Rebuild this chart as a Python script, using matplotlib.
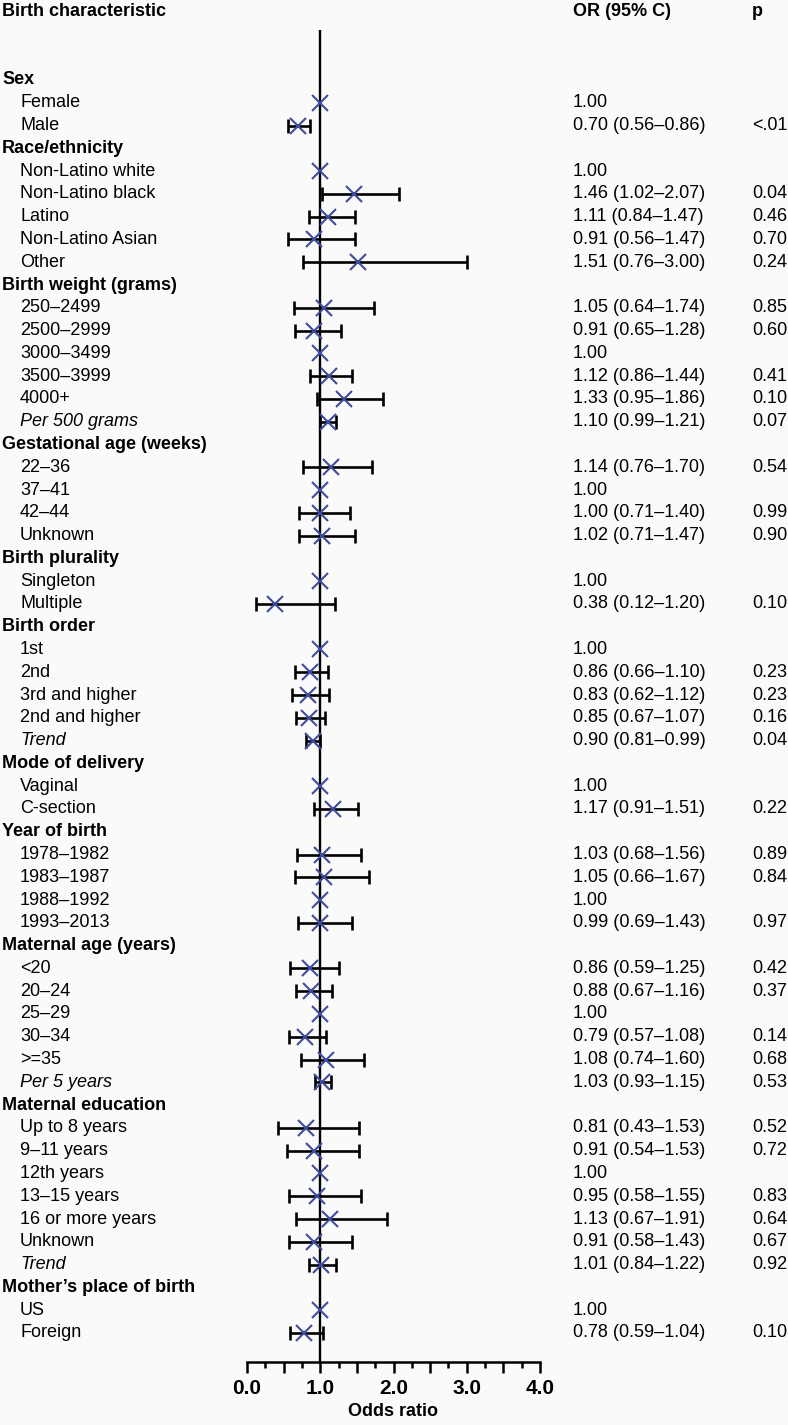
import matplotlib
matplotlib.use("Agg")
import matplotlib.pyplot as plt
from matplotlib.transforms import blended_transform_factory
from matplotlib.ticker import MultipleLocator

plt.rcParams['font.family'] = ['Liberation Sans', 'DejaVu Sans']

# rows of the table, top to bottom
row_labels = [
    "Sex", "Female", "Male",
    "Race/ethnicity", "Non-Latino white", "Non-Latino black", "Latino", "Non-Latino Asian", "Other",
    "Birth weight (grams)", "250–2499", "2500–2999", "3000–3499", "3500–3999", "4000+", "Per 500 grams",
    "Gestational age (weeks)", "22–36", "37–41", "42–44", "Unknown",
    "Birth plurality", "Singleton", "Multiple",
    "Birth order", "1st", "2nd", "3rd and higher", "2nd and higher", "Trend",
    "Mode of delivery", "Vaginal", "C-section",
    "Year of birth", "1978–1982", "1983–1987", "1988–1992", "1993–2013",
    "Maternal age (years)", "<20", "20–24", "25–29", "30–34", ">=35", "Per 5 years",
    "Maternal education", "Up to 8 years", "9–11 years", "12th years", "13–15 years",
    "16 or more years", "Unknown", "Trend",
    "Mother’s place of birth", "US", "Foreign",
]
headers = {"Sex", "Race/ethnicity", "Birth weight (grams)", "Gestational age (weeks)",
           "Birth plurality", "Birth order", "Mode of delivery", "Year of birth",
           "Maternal age (years)", "Maternal education", "Mother’s place of birth"}
italic_rows = {"Per 500 grams", "Trend", "Per 5 years"}

N = None
odds = [N, 1.00, 0.70,
        N, 1.00, 1.46, 1.11, 0.91, 1.51,
        N, 1.05, 0.91, 1.00, 1.12, 1.33, 1.10,
        N, 1.14, 1.00, 1.00, 1.02,
        N, 1.00, 0.38,
        N, 1.00, 0.86, 0.83, 0.85, 0.90,
        N, 1.00, 1.17,
        N, 1.03, 1.05, 1.00, 0.99,
        N, 0.86, 0.88, 1.00, 0.79, 1.08, 1.03,
        N, 0.81, 0.91, 1.00, 0.95, 1.13, 0.91, 1.01,
        N, 1.00, 0.78]
ci_low = [N, N, 0.56,
          N, N, 1.02, 0.84, 0.56, 0.76,
          N, 0.64, 0.65, N, 0.86, 0.95, 0.99,
          N, 0.76, N, 0.71, 0.71,
          N, N, 0.12,
          N, N, 0.66, 0.62, 0.67, 0.81,
          N, N, 0.91,
          N, 0.68, 0.66, N, 0.69,
          N, 0.59, 0.67, N, 0.57, 0.74, 0.93,
          N, 0.43, 0.54, N, 0.58, 0.67, 0.58, 0.84,
          N, N, 0.59]
ci_high = [N, N, 0.86,
           N, N, 2.07, 1.47, 1.47, 3.00,
           N, 1.74, 1.28, N, 1.44, 1.86, 1.21,
           N, 1.70, N, 1.40, 1.47,
           N, N, 1.20,
           N, N, 1.10, 1.12, 1.07, 0.99,
           N, N, 1.51,
           N, 1.56, 1.67, N, 1.43,
           N, 1.25, 1.16, N, 1.08, 1.60, 1.15,
           N, 1.53, 1.53, N, 1.55, 1.91, 1.43, 1.22,
           N, N, 1.04]
p_text = ["", "", "<.01",
          "", "", "0.04", "0.46", "0.70", "0.24",
          "", "0.85", "0.60", "", "0.41", "0.10", "0.07",
          "", "0.54", "", "0.99", "0.90",
          "", "", "0.10",
          "", "", "0.23", "0.23", "0.16", "0.04",
          "", "", "0.22",
          "", "0.89", "0.84", "", "0.97",
          "", "0.42", "0.37", "", "0.14", "0.68", "0.53",
          "", "0.52", "0.72", "", "0.83", "0.64", "0.67", "0.92",
          "", "", "0.10"]
tick_vals = [0, 0.5, 1, 1.5, 2, 2.5, 3, 3.5, 4]
tick_labels = ["0.0", "", "1.0", "", "2.0", "", "3.0", "", "4.0"]

W, H = 788, 1425
bg = "#fafafa"
marker_color = "#3f4c9e"
fs = 13

fig = plt.figure(figsize=(W / 100, H / 100), dpi=100, facecolor=bg)
# axes: x 0..4 spans px 247..540, y spans px 30..1362
ax = fig.add_axes([247 / W, (H - 1362) / H, 293 / W, 1332 / H], facecolor=bg)

row_gap = 22.78
top_row_px = 80
ax.set_xlim(0, 4)
ax.set_ylim((1362 - top_row_px) / row_gap, (30 - top_row_px) / row_gap)

ax.axvline(1.0, color="black", lw=1.7, zorder=1)

for i, (o, lo, hi) in enumerate(zip(odds, ci_low, ci_high)):
    if o is None:
        continue
    if lo is not None:
        ax.errorbar([o], [i], xerr=[[o - lo], [hi - o]], fmt="none", ecolor="black",
                    elinewidth=1.9, capsize=4.8, capthick=1.9, zorder=2)
    ax.plot([o], [i], marker="x", color=marker_color, markersize=11, mew=1.5,
            linestyle="none", zorder=3)

for s in ["top", "right", "left"]:
    ax.spines[s].set_visible(False)
ax.spines["bottom"].set_linewidth(1.8)
ax.set_yticks([])
ax.set_xticks(tick_vals)
ax.set_xticklabels(tick_labels, fontsize=15, fontweight="bold")
ax.xaxis.set_minor_locator(MultipleLocator(0.25))
ax.tick_params(axis="x", which="major", length=8, width=1.8, pad=4)
ax.tick_params(axis="x", which="minor", length=4.5, width=1.8)
ax.set_xlabel("Odds ratio", fontsize=fs, fontweight="bold", labelpad=4)

trans = blended_transform_factory(fig.transFigure, ax.transData)
x_head = 2 / W
x_item = 20 / W
x_or = 573 / W
x_p = 752 / W

for i, lab in enumerate(row_labels):
    if lab in headers:
        ax.text(x_head, i, lab, transform=trans, fontsize=fs, fontweight="bold",
                va="center", ha="left")
    else:
        style = "italic" if lab in italic_rows else "normal"
        ax.text(x_item, i, lab, transform=trans, fontsize=fs, fontstyle=style,
                va="center", ha="left")
    o, lo, hi = odds[i], ci_low[i], ci_high[i]
    if o is not None:
        txt = f"{o:.2f}" if lo is None else f"{o:.2f} ({lo:.2f}–{hi:.2f})"
        ax.text(x_or, i, txt, transform=trans, fontsize=fs, va="center", ha="left")
    if p_text[i]:
        ax.text(x_p, i, p_text[i], transform=trans, fontsize=fs, va="center", ha="left")

hdr_y = 1 - 12 / H
fig.text(x_head, hdr_y, "Birth characteristic", fontsize=fs, fontweight="bold", va="center")
fig.text(x_or, hdr_y, "OR (95% C)", fontsize=fs, fontweight="bold", va="center")
fig.text(x_p, hdr_y, "p", fontsize=fs, fontweight="bold", va="center")

fig.savefig("out.png", dpi=100, facecolor=bg)
